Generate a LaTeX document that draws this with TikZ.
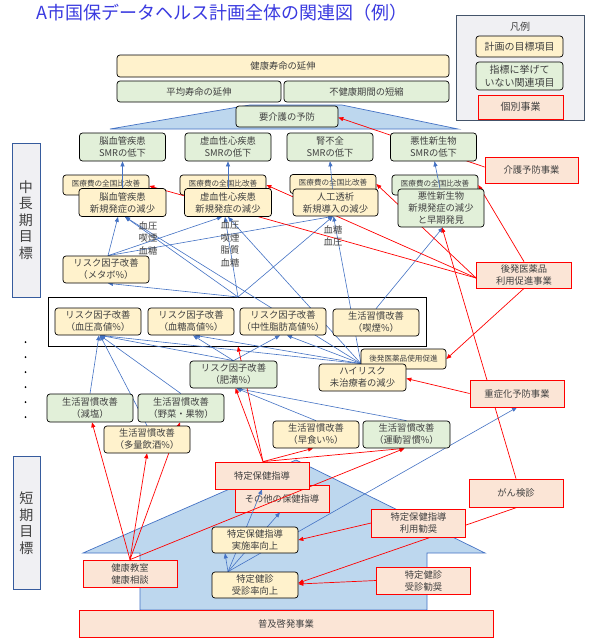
\documentclass[tikz,border=0pt]{standalone}
\usepackage{fontspec}
\setmainfont{Noto Sans CJK JP}
\usetikzlibrary{arrows.meta,calc}
\pgfdeclarelayer{bg}
\pgfdeclarelayer{low}
\pgfdeclarelayer{edges}
\pgfsetlayers{bg,low,edges,main}
\definecolor{goalF}{HTML}{FFF2CC}
\definecolor{relF}{HTML}{E2F0D9}
\definecolor{bizF}{HTML}{FBE5D6}
\definecolor{bluL}{HTML}{4472C4}
\definecolor{houseF}{HTML}{BDD7EE}
\definecolor{txt}{HTML}{404040}
\definecolor{ttl}{HTML}{3A3AE0}
\definecolor{legF}{HTML}{F0F0F3}
\definecolor{legD}{HTML}{44546A}
\tikzset{
  box/.style={rounded corners=3pt, draw=black, line width=0.7pt, align=center, inner sep=0pt, text=txt, font=\fontsize{9.3}{12}\selectfont},
  goal/.style={box, fill=goalF},
  rel/.style={box, fill=relF},
  biz/.style={draw=red, line width=0.8pt, fill=bizF, align=center, inner sep=0pt, text=txt, font=\fontsize{9.3}{12}\selectfont},
  smalltxt/.style={font=\fontsize{7.6}{8.5}\selectfont},
  wh/.style 2 args={minimum width=#1pt, minimum height=#2pt},
  bl/.style={draw=bluL, line width=0.6pt, -{Triangle[length=5pt,width=4pt]}},
  rd/.style={draw=red, line width=0.7pt, -{Triangle[length=5pt,width=4pt]}},
  lab/.style={align=center, inner sep=0pt, text=txt, font=\fontsize{9.3}{12.5}\selectfont},
  side/.style={draw=legD, fill=legF, line width=0.8pt}
}
\newcommand{\iryotext}{\raisebox{3pt}{医療費の全国比改善}}
\begin{document}
\begin{tikzpicture}[x=1pt,y=-1pt]
\useasboundingbox (0,0) rectangle (590,641);
\begin{pgfonlayer}{bg}
\fill[white] (0,0) rectangle (590,641);
\filldraw[fill=houseF, draw=bluL, line width=0.7pt] (250,105) -- (342,105) -- (458,129) -- (110,129) -- cycle;
\filldraw[fill=houseF, draw=bluL, line width=0.7pt] (83,553) -- (296,460) -- (485,553) -- (427,553) -- (427,610) -- (140,610) -- (140,553) -- cycle;
\draw[black, line width=0.8pt] (48,297) rectangle (426,346);
\end{pgfonlayer}
% title
\node[anchor=west, text=ttl, font=\fontsize{18}{20}\selectfont, inner sep=0pt] (title) at (36,13) {A市国保データヘルス計画全体の関連図（例）};
% legend
\draw[side] (456,15) rectangle (584,120);
\node[lab, font=\fontsize{10}{12}\selectfont] (legt) at (520,27) {凡例};
\node[goal, wh={87}{21}, font=\fontsize{10}{12.5}\selectfont] (lg1) at (519.5,46.5) {計画の目標項目};
\node[rel, wh={87}{28}, font=\fontsize{10}{12.5}\selectfont] (lg2) at (519.5,76) {指標に挙げて\\いない関連項目};
\node[biz, wh={85}{24}, font=\fontsize{10}{12.5}\selectfont] (lg3) at (520.5,107) {個別事業};
% side labels
\draw[side, draw=bluL!80!black] (12,143) rectangle (40,297);
\node[lab, font=\fontsize{14}{16.5}\selectfont] (midlab) at (26,220) {中\\長\\期\\目\\標};
\draw[side, draw=bluL!80!black] (13,456) rectangle (40,589);
\node[lab, font=\fontsize{14}{16.5}\selectfont] (shortlab) at (26.5,523) {短\\期\\目\\標};
\foreach \yy in {342,357,372,387,402,417} \fill[black] (25.5,\yy) circle (1pt);
\coordinate (rtop) at (238,297);
\coordinate (rbot) at (238,346.5);
% top goals
\node[goal, wh={332}{22}] (kenko) at (283,66) {健康寿命の延伸};
\node[rel, wh={164}{21}] (heikin) at (199,91.5) {平均寿命の延伸};
\node[rel, wh={165}{21}] (fukenko) at (366.5,91.5) {不健康期間の短縮};
\node[rel, wh={102}{21}] (yokaigo) at (287,116.5) {要介護の予防};
% SMR row
\node[rel, wh={86}{28}] (smr1) at (122.5,147) {脳血管疾患\\SMRの低下};
\node[rel, wh={86}{28}] (smr2) at (228,147) {虚血性心疾患\\SMRの低下};
\node[rel, wh={86}{28}] (smr3) at (330,147) {腎不全\\SMRの低下};
\node[rel, wh={86}{28}] (smr4) at (433.5,147) {悪性新生物\\SMRの低下};
% cost boxes (lower layer)
\begin{pgfonlayer}{low}
\node[goal, wh={86}{20}, smalltxt] (iryo1) at (106,185) {\iryotext};
\node[goal, wh={86}{20}, smalltxt] (iryo2) at (223,185) {\iryotext};
\node[goal, wh={86}{19}, smalltxt] (iryo3) at (333,184) {\iryotext};
\node[rel, wh={86}{20}, smalltxt] (iryo4) at (435,185) {\iryotext};
\node[biz, wh={94}{27}] (sonota) at (282,498.5) {その他の保健指導};
\end{pgfonlayer}
% disease boxes
\node[goal, wh={87}{28}] (dis1) at (122.5,202.5) {脳血管疾患\\新規発症の減少};
\node[goal, wh={87}{28}] (dis2) at (228,202.5) {虚血性心疾患\\新規発症の減少};
\node[goal, wh={85}{27}] (dis3) at (335.5,202.5) {人工透析\\新規導入の減少};
\node[rel, wh={86}{38}] (dis4) at (441,208) {悪性新生物\\新規発症の減少\\と早期発見};
\node[lab] (lab1) at (148,238) {血圧\\喫煙\\血糖};
\node[lab] (lab2) at (230,244) {血圧\\喫煙\\脂質\\血糖};
\node[lab] (lab3) at (333,236) {血糖\\血圧};
\node[goal, wh={86}{27}] (meta) at (106,269.5) {リスク因子改善\\（メタボ\%）};
% risk row
\node[goal, wh={86}{27}] (r1) at (98,321.5) {リスク因子改善\\（血圧高値\%）};
\node[goal, wh={86}{27}] (r2) at (191,321.5) {リスク因子改善\\（血糖高値\%）};
\node[goal, wh={86}{27}] (r3) at (283,321.5) {リスク因子改善\\（中性脂肪高値\%）};
\node[goal, wh={86}{27}] (r4) at (376,322.5) {生活習慣改善\\（喫煙\%）};
\node[goal, wh={85}{20}, smalltxt] (kohs) at (403.5,359) {後発医薬品使用促進};
\node[goal, wh={87}{27}] (hirisk) at (362.5,377.5) {ハイリスク\\未治療者の減少};
\node[rel, wh={87}{27}] (himan) at (233.5,374.5) {リスク因子改善\\（肥満\%）};
\node[rel, wh={86}{28}] (gen) at (90,408) {生活習慣改善\\（減塩）};
\node[rel, wh={86}{28}] (yasai) at (181,408) {生活習慣改善\\（野菜・果物）};
\node[goal, wh={86}{27}] (inshu) at (147,439.5) {生活習慣改善\\（多量飲酒\%）};
\node[goal, wh={86}{27}] (haya) at (316,434.5) {生活習慣改善\\（早食い\%）};
\node[rel, wh={87}{27}] (undo) at (406.5,434.5) {生活習慣改善\\（運動習慣\%）};
% business boxes
\node[biz, wh={93}{26}] (kaigo) at (531.5,170) {介護予防事業};
\node[biz, wh={95}{26}] (koh) at (524,275) {後発医薬品\\利用促進事業};
\node[biz, wh={94}{27}] (jusho) at (517,393.5) {重症化予防事業};
\node[biz, wh={94}{28}] (gan) at (516,493) {がん検診};
\node[biz, wh={94}{27}] (tokuho) at (262,475.5) {特定保健指導};
\node[goal, wh={86}{26}] (jisshi) at (255,540) {特定保健指導\\実施率向上};
\node[goal, wh={86}{26}] (jushin) at (255,585) {特定健診\\受診率向上};
\node[biz, wh={94}{28}] (riyo) at (418.5,523) {特定保健指導\\利用勧奨};
\node[biz, wh={94}{27}] (jkan) at (423.5,580.5) {特定健診\\受診勧奨};
\node[biz, wh={94}{27}] (kyo) at (130,573.5) {健康教室\\健康相談};
\node[biz, wh={414}{27}] (fukyu) at (286,623.5) {普及啓発事業};
% edges
\begin{pgfonlayer}{edges}
% blue
\draw[bl] (dis1.north) -- (smr1.south);
\draw[bl] (dis2.north) -- (smr2.south);
\draw[bl] ([xshift=-3pt]dis3.north) -- (smr3.south);
\draw[bl] ([xshift=-1pt]dis4.north) -- ([xshift=1pt]smr4.south);
\draw[bl] ([xshift=2pt]meta.north) -- ([xshift=-4.5pt]dis1.south);
\draw[bl] ([xshift=2pt]meta.north) -- ([xshift=-6pt]dis2.south);
\draw[bl] ([xshift=2pt]meta.north) -- ([xshift=-2.5pt]dis3.south);
\draw[bl] (rtop) -- ([xshift=2pt]meta.south);
\draw[bl] (rtop) -- ([xshift=2.5pt]dis1.south);
\draw[bl] (rtop) -- ([xshift=-3pt]dis2.south);
\draw[bl] (rtop) -- ([xshift=-2.5pt]dis3.south);
\draw[bl] ([xshift=-1.5pt]hirisk.north) -- ([xshift=2.5pt]dis1.south);
\draw[bl] ([xshift=-1.5pt]hirisk.north) -- (dis2.south);
\draw[bl] ([xshift=-1.5pt]hirisk.north) -- ([xshift=-2pt]dis3.south);
\draw[bl] ([xshift=-1.5pt]hirisk.north) -- ([xshift=2pt]r1.south);
\draw[bl] ([xshift=-1.5pt]hirisk.north) -- ([xshift=4pt]r2.south);
\draw[bl] ([xshift=-1.5pt]hirisk.north) -- ([xshift=4pt]r3.south);
\draw[bl] (r4.north) -- ([xshift=2pt]dis4.south);
\draw[bl] (himan.north) -- ([xshift=2pt]r1.south);
\draw[bl] (himan.north) -- ([xshift=2pt]r2.south);
\draw[bl] (himan.north) -- ([xshift=-3pt]r3.south);
\draw[bl] (gen.north) -- ([xshift=1pt]r1.south);
\draw[bl] (yasai.north) -- ([xshift=2pt]r1.south);
\draw[bl] (inshu.north) -- ([xshift=2pt]r1.south);
\draw[bl] (haya.north) -- ([xshift=3pt]himan.south);
\draw[bl] (undo.north) -- ([xshift=3pt]himan.south);
\draw[bl] ([xshift=-27pt]jushin.north) -- ([xshift=-30pt]jisshi.south);
\draw[bl] ([xshift=-27pt]jushin.north) -- (tokuho.south);
\draw[bl] ([xshift=-27pt]jushin.north) -- ([xshift=-2pt]sonota.south);
\draw[bl] ([xshift=-27pt]jushin.north) -- (jusho.south);
% red
\draw[rd] ([yshift=3pt]kaigo.west) -- ([yshift=-1pt]yokaigo.east);
\draw[rd] ([yshift=-3pt]koh.west) -- ([yshift=-1pt]iryo1.east);
\draw[rd] ([yshift=-3pt]koh.west) -- (iryo2.east);
\draw[rd] ([yshift=-3pt]koh.west) -- (iryo3.east);
\draw[rd] (koh.north) -- (iryo4.east);
\draw[rd] (koh.south) -- (kohs.east);
\draw[rd] (jusho.west) -- ([yshift=-1pt]hirisk.east);
\draw[rd] (gan.north) -- ([xshift=1pt]dis4.south);
\draw[rd] ([xshift=1pt]gan.south) -- ([yshift=2pt]jushin.east);
\draw[rd] (riyo.west) -- (jisshi.east);
\draw[rd] (jkan.west) -- ([yshift=1pt]jushin.east);
\draw[rd] ([xshift=1pt]tokuho.north) -- ([xshift=2pt]himan.south);
\draw[rd] ([xshift=1pt]tokuho.north) -- (rbot);
\draw[rd] ([xshift=1pt]tokuho.north) -- ([xshift=-3pt]haya.south);
\draw[rd] ([xshift=1pt]tokuho.north) -- ([xshift=-2pt]undo.south);
\draw[rd] (kyo.north) -- ([xshift=2pt]gen.south);
\draw[rd] (kyo.north) -- ([xshift=-1pt]yasai.south);
\draw[rd] (kyo.north) -- (inshu.south);
\draw[rd] (kyo.north) -- ([xshift=-2pt]undo.south);
\end{pgfonlayer}
\end{tikzpicture}
\end{document}
